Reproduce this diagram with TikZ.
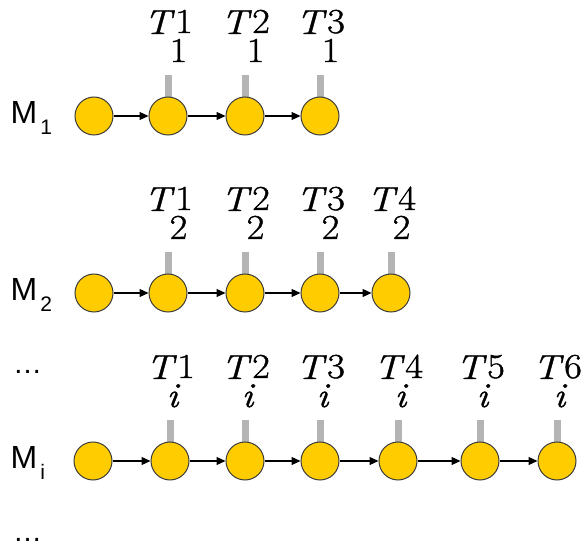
\documentclass[tikz,border=0pt]{standalone}
\usepackage{fontspec}
\newfontfamily\arial{Liberation Sans}
\newfontfamily\tfont[FakeBold=1.2,FakeStretch=1.1]{Latin Modern Roman}
\usetikzlibrary{arrows.meta,backgrounds}
\definecolor{gold}{HTML}{FFCC00}
\definecolor{rim}{HTML}{3C3C3C}
\definecolor{stemgray}{HTML}{B4B4B4}
\tikzset{
  state/.style={circle,draw=rim,line width=1pt,fill=gold,minimum size=38pt,inner sep=0pt},
  link/.style={-{Triangle[length=9pt,width=8pt]},line width=1.1pt},
  stem/.style={draw=stemgray,line width=7pt},
  tlabel/.style={anchor=base west,inner sep=0pt,font=\tfont\fontsize{35}{40}\selectfont},
  mlabel/.style={anchor=base west,inner sep=0pt,font=\arial\fontsize{32}{38}\selectfont},
  dotlabel/.style={anchor=base west,inner sep=0pt,font=\arial\fontsize{29}{34}\selectfont},
}
\newcommand{\tlab}[3]{\textit{T}\rlap{\kern#3\raisebox{-28pt}{#1}}\kern0.5pt\raisebox{1pt}{#2}}
\newcommand{\mlab}[1]{M\kern3pt\raisebox{-11pt}{\fontsize{21}{24}\selectfont #1}}
\begin{document}
\begin{tikzpicture}[x=1pt,y=-1pt]
\useasboundingbox (0,0) rectangle (582,548);
% row 1
\foreach \x [count=\k] in {94,168,245,320} \node[state] (a\k) at (\x,116) {};
\foreach \k/\s in {2/1,3/2,4/3} {
  \node[tlabel] (ta\k) at ([shift={(-24,-82)}]a\k.center) {\tlab{1}{\s}{-5pt}};
  \begin{scope}[on background layer]
    \draw[stem] (a\k.center) -- ++(0,-41);
  \end{scope}
}
\foreach \k/\n in {1/2,2/3,3/4} \draw[link] (a\k) -- (a\n);
\node[mlabel] (m1) at (10.5,124) {\mlab{1}};
% row 2
\foreach \x [count=\k] in {94,168,245,320,391} \node[state] (b\k) at (\x,293) {};
\foreach \k/\s in {2/1,3/2,4/3,5/4} {
  \node[tlabel] (tb\k) at ([shift={(-24,-82)}]b\k.center) {\tlab{2}{\s}{-5pt}};
  \begin{scope}[on background layer]
    \draw[stem] (b\k.center) -- ++(0,-41);
  \end{scope}
}
\foreach \k/\n in {1/2,2/3,3/4,4/5} \draw[link] (b\k) -- (b\n);
\node[mlabel] (m2) at (10.5,301) {\mlab{2}};
% row i
\foreach \x [count=\k] in {93,170,245,320,398,480,557} \node[state] (c\k) at (\x,461) {};
\foreach \k/\s in {2/1,3/2,4/3,5/4,6/5,7/6} {
  \node[tlabel] (tc\k) at ([shift={(-24,-82)}]c\k.center) {\tlab{\textit{i}}{\s}{-10pt}};
  \begin{scope}[on background layer]
    \draw[stem] (c\k.center) -- ++(0,-41);
  \end{scope}
}
\foreach \k/\n in {1/2,2/3,3/4,4/5,5/6,6/7} \draw[link] (c\k) -- (c\n);
\node[mlabel] (mi) at (10.5,469) {\mlab{i}};
% dots
\node[dotlabel] (d1) at (13,374) {…};
\node[dotlabel] (d2) at (13,542) {…};
\end{tikzpicture}
\end{document}
